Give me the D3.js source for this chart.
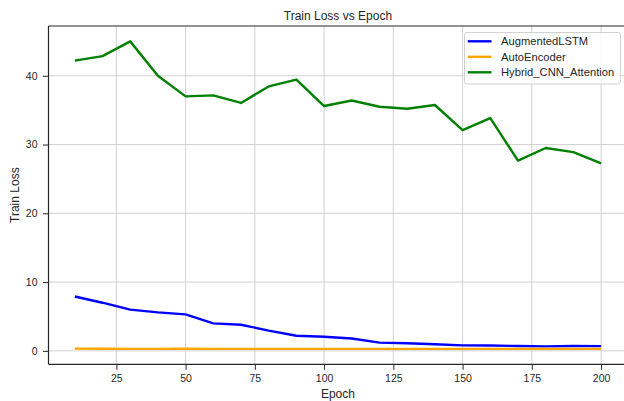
<!DOCTYPE html>
<html><head><meta charset="utf-8">
<script src="https://cdn.jsdelivr.net/npm/d3@7"></script>
<style>
html,body{margin:0;padding:0;background:#fff;}
svg{display:block;font-family:"Liberation Sans",Arial,sans-serif;}
</style></head>
<body>
<svg id="chart" width="624" height="401"></svg>
<script>
const epochs = [10,20,30,40,50,60,70,80,90,100,110,120,130,140,150,160,170,180,190,200];
const augmentedLSTM = [7.9,7.0,6.0,5.6,5.3,4.0,3.8,2.95,2.2,2.05,1.8,1.2,1.1,0.95,0.8,0.78,0.7,0.65,0.7,0.68];
const autoEncoder = [0.32,0.3,0.29,0.28,0.3,0.29,0.28,0.28,0.28,0.29,0.28,0.28,0.28,0.28,0.28,0.28,0.28,0.28,0.28,0.28];
const hybridCNN = [42.2,42.85,45.0,40.0,37.0,37.15,36.05,38.45,39.45,35.6,36.4,35.5,35.2,35.75,32.1,33.85,27.65,29.5,28.9,27.25];
const seriesNames = ["AugmentedLSTM","AutoEncoder","Hybrid_CNN_Attention"];
const seriesValues = [augmentedLSTM, autoEncoder, hybridCNN];
const seriesColors = ["#0000ff","#ffa500","#008000"];
const xTicks = [25,50,75,100,125,150,175,200];
const yTicks = [0,10,20,30,40];

const svg = d3.select("#chart");
const L = 48.5, R = 627.4, T = 26, B = 364.3;

const xMin = d3.min(epochs), xMax = d3.max(epochs);
const xPad = (xMax - xMin) * 0.05;
const x = d3.scaleLinear().domain([xMin - xPad, xMax + xPad]).range([L, R]);
const all = seriesValues.flat();
const yMin = d3.min(all), yMax = d3.max(all);
const yPad = (yMax - yMin) * 0.05;
const y = d3.scaleLinear().domain([yMin - yPad, yMax + yPad]).range([B, T]);

svg.append("rect").attr("width",624).attr("height",401).attr("fill","#fff");

// grid
const grid = svg.append("g");
grid.selectAll(".gx").data(xTicks).enter().append("line")
  .attr("x1", d => x(d)).attr("x2", d => x(d)).attr("y1", T).attr("y2", B)
  .attr("stroke","#cccccc").attr("stroke-width",0.9);
grid.selectAll(".gy").data(yTicks).enter().append("line")
  .attr("x1", L).attr("x2", R).attr("y1", d => y(d)).attr("y2", d => y(d))
  .attr("stroke","#cccccc").attr("stroke-width",0.9);

// lines
const line = d3.line().x((d,i) => x(epochs[i])).y(d => y(d));
seriesValues.forEach((vals, k) => {
  svg.append("path").datum(vals).attr("d", line)
    .attr("fill","none").attr("stroke", seriesColors[k]).attr("stroke-width",2.4)
    .attr("stroke-linejoin","round").attr("stroke-linecap","butt");
});

// axes
const xAxis = d3.axisBottom(x).tickValues(xTicks).tickSize(5.5).tickPadding(5);
const gx = svg.append("g").attr("transform", `translate(0,${B})`).call(xAxis);
const yAxis = d3.axisLeft(y).tickValues(yTicks).tickSize(5.5).tickPadding(5.5);
const gy = svg.append("g").attr("transform", `translate(${L},0)`).call(yAxis);
[gx, gy].forEach(g => {
  g.select(".domain").remove();
  g.selectAll(".tick line").attr("stroke","#262626").attr("stroke-width",1);
  g.selectAll(".tick text").attr("fill","#262626").style("font-size","10.5px")
    .style("font-family",'"Liberation Sans",Arial,sans-serif');
});

// spines
svg.append("line").attr("x1",L).attr("x2",L).attr("y1",T).attr("y2",B).attr("stroke","#262626").attr("stroke-width",1.2);
svg.append("line").attr("x1",L).attr("x2",R).attr("y1",B).attr("y2",B).attr("stroke","#262626").attr("stroke-width",1.2);
svg.append("line").attr("x1",L).attr("x2",R).attr("y1",T).attr("y2",T).attr("stroke","#262626").attr("stroke-width",1.2);
svg.append("line").attr("x1",R).attr("x2",R).attr("y1",T).attr("y2",B).attr("stroke","#262626").attr("stroke-width",1.2);

// labels
svg.append("text").attr("x",(L+R)/2).attr("y",19.5).attr("text-anchor","middle")
  .attr("fill","#262626").style("font-size","12px").text("Train Loss vs Epoch");
svg.append("text").attr("x",(L+R)/2).attr("y",397.5).attr("text-anchor","middle")
  .attr("fill","#262626").style("font-size","12px").text("Epoch");
svg.append("text").attr("transform",`translate(18.5,${(T+B)/2}) rotate(-90)`).attr("text-anchor","middle")
  .attr("fill","#262626").style("font-size","12px").text("Train Loss");

// legend
const lg = svg.append("g");
lg.append("rect").attr("x",464.5).attr("y",32.5).attr("width",156).attr("height",51.5)
  .attr("rx",2.5).attr("fill","#fff").attr("fill-opacity",0.8).attr("stroke","#cccccc").attr("stroke-width",0.9);
seriesNames.forEach((name,k) => {
  const yy = 41.3 + k*15.5;
  lg.append("line").attr("x1",467.7).attr("x2",491.5).attr("y1",yy).attr("y2",yy)
    .attr("stroke",seriesColors[k]).attr("stroke-width",2.4);
  lg.append("text").attr("x",501).attr("y",yy+4).attr("fill","#262626")
    .style("font-size","11.2px").text(name);
});
</script>
</body></html>
